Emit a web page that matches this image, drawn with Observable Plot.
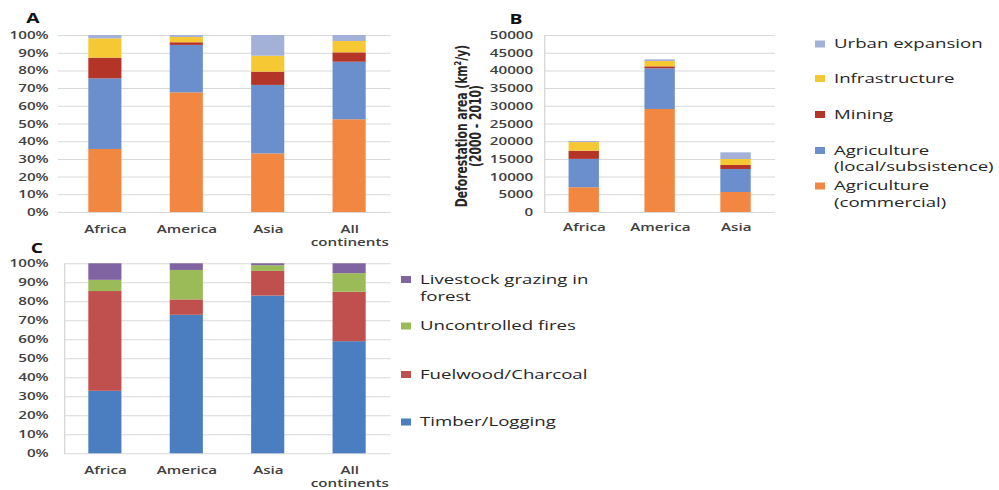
<!DOCTYPE html>
<html><head><meta charset="utf-8">
<script src="https://cdn.jsdelivr.net/npm/d3@7"></script>
<script src="https://cdn.jsdelivr.net/npm/@observablehq/plot@0.6"></script>
<style>
html,body{margin:0;padding:0;background:#fff;}
#page{position:relative;width:999px;height:490px;overflow:hidden;background:#fff;}
#stage{position:absolute;left:0;top:0;height:490px;transform-origin:0 0;}
#stage > .panel{position:absolute;}
#stage svg{overflow:visible;}
</style></head><body>
<div id="page"><div id="stage"></div></div>
<script>
// ---------- data ----------
const continents = ["Africa", "America", "Asia", "All continents"];
const continentsB = ["Africa", "America", "Asia"];

const landUseDrivers = ["Agriculture (commercial)", "Agriculture (local/subsistence)", "Mining", "Infrastructure", "Urban expansion"];
const landUseColors = ["#F28741", "#6A8FCC", "#B53428", "#F6C834", "#A3B1D8"];

// Panel A: share of deforestation by driver (%), order = continents
const shareCommercial = [35.6, 67.6, 33.1, 52.4];
const shareSubsistence = [39.9, 26.8, 38.7, 32.5];
const shareMining = [11.7, 1.5, 7.5, 5.3];
const shareInfrastructure = [10.9, 3.0, 9.0, 6.4];
const shareUrban = [1.9, 1.1, 11.7, 3.4];

// Panel B: deforestation area (km2/y, 2000-2010), order = continentsB
const areaCommercial = [7000, 29100, 5650];
const areaSubsistence = [8000, 11500, 6500];
const areaMining = [2300, 550, 1120];
const areaInfrastructure = [2450, 1500, 1700];
const areaUrban = [300, 470, 1880];

// Panel C: degradation drivers (%)
const degradationDrivers = ["Timber/Logging", "Fuelwood/Charcoal", "Uncontrolled fires", "Livestock grazing in forest"];
const degradationColors = ["#4A7EC1", "#C0504D", "#9BBB59", "#8064A2"];
const shareTimber = [32.9, 72.9, 83.0, 59.0];
const shareFuelwood = [52.5, 8.1, 13.0, 26.0];
const shareFires = [5.9, 15.5, 3.0, 9.8];
const shareLivestock = [8.7, 3.5, 1.0, 5.2];

const pctTicks = [0, 10, 20, 30, 40, 50, 60, 70, 80, 90, 100];
const areaTicks = [0, 5000, 10000, 15000, 20000, 25000, 30000, 35000, 40000, 45000, 50000];

const legendBLabels = [["Urban expansion"], ["Infrastructure"], ["Mining"], ["Agriculture", "(local/subsistence)"], ["Agriculture", "(commercial)"]];
const legendBKeys = ["Urban expansion", "Infrastructure", "Mining", "Agriculture (local/subsistence)", "Agriculture (commercial)"];
const legendCLabels = [["Livestock grazing in", "forest"], ["Uncontrolled fires"], ["Fuelwood/Charcoal"], ["Timber/Logging"]];
const legendCKeys = ["Livestock grazing in forest", "Uncontrolled fires", "Fuelwood/Charcoal", "Timber/Logging"];
const titleB = "Deforestation area (km²/y)\n(2000 - 2010)";

// ---------- build rows ----------
const seriesA = [shareCommercial, shareSubsistence, shareMining, shareInfrastructure, shareUrban];
const rowsA = landUseDrivers.flatMap((d, i) => continents.map((c, j) => ({continent: c, driver: d, value: seriesA[i][j]})));
const seriesB = [areaCommercial, areaSubsistence, areaMining, areaInfrastructure, areaUrban];
const rowsB = landUseDrivers.flatMap((d, i) => continentsB.map((c, j) => ({continent: c, driver: d, value: seriesB[i][j]})));
const seriesC = [shareTimber, shareFuelwood, shareFires, shareLivestock];
const rowsC = degradationDrivers.flatMap((d, i) => continents.map((c, j) => ({continent: c, driver: d, value: seriesC[i][j]})));

// ---------- layout (the original figure is horizontally stretched) ----------
const S = 1.38;
const stage = document.getElementById("stage");
stage.style.width = (999 / S) + "px";
stage.style.transform = `scaleX(${S})`;

const TXT = "#404040";
const GRID = "#d9d9d9";
const baseStyle = {fontFamily: "'Open Sans', sans-serif", fontSize: "11px", fontWeight: 600, color: TXT, background: "transparent", overflow: "visible"};
const wrap = d => d === "All continents" ? "All\ncontinents" : d;

function place(svg, left, top) {
  const div = document.createElement("div");
  div.className = "panel";
  div.style.left = left + "px";
  div.style.top = top + "px";
  div.appendChild(svg);
  stage.appendChild(div);
}

// Panel A
const plotA = Plot.plot({
  width: 400 / S, height: 250,
  marginLeft: 64 / S, marginRight: 9.5 / S, marginTop: 35, marginBottom: 38,
  style: baseStyle,
  x: {domain: continents, paddingInner: 0.6, paddingOuter: 0.3},
  y: {domain: [0, 100]},
  color: {domain: landUseDrivers, range: landUseColors},
  marks: [
    Plot.gridY(pctTicks, {stroke: GRID, strokeOpacity: 1, insetLeft: -6 / S}),
    Plot.barY(rowsA, {x: "continent", y: "value", fill: "driver"}),
    Plot.axisY(pctTicks, {tickSize: 0, tickPadding: 16 / S, tickFormat: d => d + "%", label: null}),
    Plot.axisX({tickSize: 0, tickPadding: 11, tickFormat: wrap, label: null, lineHeight: 1.2})
  ]
});
place(plotA, 0, 0);

// Panel B
const plotB = Plot.plot({
  width: 370 / S, height: 250,
  marginLeft: 124.5 / S, marginRight: 14.5 / S, marginTop: 35, marginBottom: 38,
  style: baseStyle,
  x: {domain: continentsB, paddingInner: 0.6, paddingOuter: 0.3},
  y: {domain: [0, 50000]},
  color: {domain: landUseDrivers, range: landUseColors},
  marks: [
    Plot.gridY(areaTicks, {stroke: GRID, strokeOpacity: 1}),
    Plot.frame({anchor: "left", stroke: GRID, strokeOpacity: 1}),
    Plot.barY(rowsB, {x: "continent", y: "value", fill: "driver"}),
    Plot.axisY(areaTicks, {tickSize: 0, tickPadding: 11.5 / S, tickFormat: d => String(d), label: null}),
    Plot.axisX({tickSize: 0, tickPadding: 11, label: null}),
    Plot.text([titleB], {
      text: d => d, frameAnchor: "left", textAnchor: "middle", lineAnchor: "middle",
      rotate: -90, dx: (469 - 544.5) / S, dy: 2,
      fontFamily: "'DejaVu Sans Condensed', 'DejaVu Sans', sans-serif", fontWeight: "bold",
      fontSize: 12, lineHeight: 0.88, fill: "#262626"
    })
  ]
});
place(plotB, 420 / S, 0);

// Panel C
const plotC = Plot.plot({
  width: 400 / S, height: 240,
  marginLeft: 64 / S, marginRight: 9.5 / S, marginTop: 13.3, marginBottom: 36.7,
  style: baseStyle,
  x: {domain: continents, paddingInner: 0.6, paddingOuter: 0.3},
  y: {domain: [0, 100]},
  color: {domain: degradationDrivers, range: degradationColors},
  marks: [
    Plot.gridY(pctTicks, {stroke: GRID, strokeOpacity: 1}),
    Plot.frame({anchor: "left", stroke: GRID, strokeOpacity: 1}),
    Plot.barY(rowsC, {x: "continent", y: "value", fill: "driver"}),
    Plot.axisY(pctTicks, {tickSize: 0, tickPadding: 16 / S, tickFormat: d => d + "%", label: null}),
    Plot.axisX({tickSize: 0, tickPadding: 11, tickFormat: wrap, label: null, lineHeight: 1.2})
  ]
});
place(plotC, 0, 250);

// ---------- overlay: panel letters and legends ----------
const ov = d3.select(stage).append("svg")
  .attr("width", 999 / S).attr("height", 490)
  .style("position", "absolute").style("left", "0px").style("top", "0px")
  .style("overflow", "visible");

const letters = [["A", 33, 23], ["B", 516, 24.5], ["C", 37, 253]];
ov.selectAll("text.letter").data(letters).join("text")
  .attr("class", "letter")
  .attr("x", d => d[1] / S).attr("y", d => d[2])
  .attr("text-anchor", "middle")
  .style("font-family", "'Open Sans', sans-serif").style("font-weight", 700).style("font-size", "14px")
  .attr("fill", "#111").text(d => d[0]);

const colorB = d3.scaleOrdinal(landUseDrivers, landUseColors);
const colorC = d3.scaleOrdinal(degradationDrivers, degradationColors);

function legend(labels, keys, color, sqX, txtX, baselines) {
  labels.forEach((lines, i) => {
    const y0 = baselines[i][0];
    ov.append("rect").attr("x", sqX / S).attr("y", y0 - 8).attr("width", 10 / S).attr("height", 7)
      .attr("fill", color(keys[i]));
    lines.forEach((t, k) => {
      ov.append("text").attr("x", txtX / S).attr("y", baselines[i][k])
        .style("font-family", "'Open Sans', sans-serif").style("font-size", "13.5px").style("font-weight", 500)
        .attr("fill", "#262626").text(t);
    });
  });
}
legend(legendBLabels, legendBKeys, colorB, 815, 834, [[48.5], [83], [119], [155, 171.5], [190.5, 207]]);
legend(legendCLabels, legendCKeys, colorC, 401, 420, [[284, 301], [330.5], [379], [426.5]]);
</script>
</body></html>
